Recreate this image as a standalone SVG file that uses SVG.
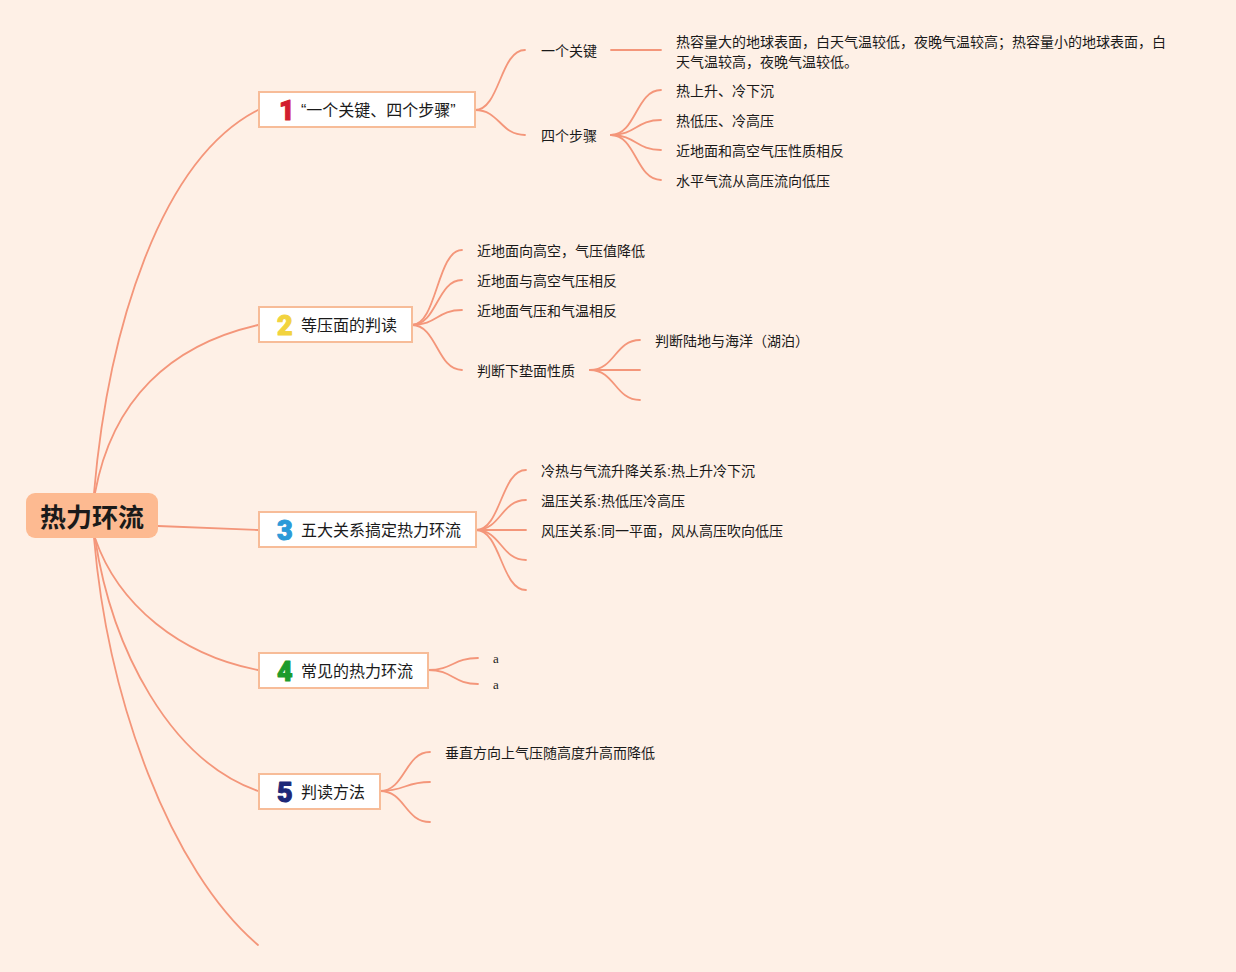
<svg xmlns="http://www.w3.org/2000/svg" width="1236" height="972" viewBox="0 0 1236 972">
<style>
.bg{fill:#FEF0E6}
.ln{fill:none;stroke:#F4967A;stroke-width:1.8;stroke-linecap:round}
.box{fill:#FFFFFF;stroke:#F7BC98;stroke-width:2}
.t{font-family:"Liberation Sans","Noto Sans CJK SC",sans-serif;fill:#1A1A1A;}
.n{font-size:16px}
.s{font-size:14px}
.num{font-family:Roboto,"Liberation Sans",sans-serif;font-weight:900;font-size:27px;stroke-width:1;stroke-linejoin:round}
</style>
<rect class="bg" x="0" y="0" width="1236" height="972"/>
<g id="connectors">
  <path class="ln" d="M94,493 C108,330 160,160 258,110"/>
  <path class="ln" d="M95,493 C112,400 170,345 258,325"/>
  <path class="ln" d="M158,526 L258,530"/>
  <path class="ln" d="M95,538 C118,605 180,655 258,670"/>
  <path class="ln" d="M95,538 C112,650 170,760 258,791"/>
  <path class="ln" d="M94,538 C108,700 170,870 258,945"/>
  <path class="ln" d="M475,110 C500,110 500,50 525,50"/>
  <path class="ln" d="M475,110 C500,110 500,135 525,135"/>
  <path class="ln" d="M611,50 L661,50"/>
  <path class="ln" d="M611,135 C636,135 636,90 661,90"/>
  <path class="ln" d="M611,135 C636,135 636,120 661,120"/>
  <path class="ln" d="M611,135 C636,135 636,150 661,150"/>
  <path class="ln" d="M611,135 C636,135 636,180 661,180"/>
  <path class="ln" d="M412,325 C437,325 437,250 462,250"/>
  <path class="ln" d="M412,325 C437,325 437,280 462,280"/>
  <path class="ln" d="M412,325 C437,325 437,310 462,310"/>
  <path class="ln" d="M412,325 C437,325 437,370 462,370"/>
  <path class="ln" d="M590,370 C615,370 615,340 640,340"/>
  <path class="ln" d="M590,370 L640,370"/>
  <path class="ln" d="M590,370 C615,370 615,400 640,400"/>
  <path class="ln" d="M476,530 C501,530 501,470 526,470"/>
  <path class="ln" d="M476,530 C501,530 501,500 526,500"/>
  <path class="ln" d="M476,530 L526,530"/>
  <path class="ln" d="M476,530 C501,530 501,560 526,560"/>
  <path class="ln" d="M476,530 C501,530 501,590 526,590"/>
  <path class="ln" d="M428,670 C453,670 453,658 478,658"/>
  <path class="ln" d="M428,670 C453,670 453,684 478,684"/>
  <path class="ln" d="M380,791 C405,791 405,752 430,752"/>
  <path class="ln" d="M380,791 C405,791 405,782 430,782"/>
  <path class="ln" d="M380,791 C405,791 405,822 430,822"/>
</g>
<g id="root">
  <rect x="26" y="493" width="132" height="45" rx="9" fill="#FDBA91"/>
  <text class="t" x="92" y="527" font-size="26" font-weight="bold" text-anchor="middle" fill="#111">热力环流</text>
</g>
<g id="n1">
  <rect class="box" x="259" y="92" width="216" height="35"/>
  <text class="num" x="279" y="120" fill="#D21F2D" stroke="#D21F2D">1</text>
  <text class="t n" x="301" y="116">“一个关键、四个步骤”</text>
</g>
<g id="n1a"><text class="t s" x="541" y="56">一个关键</text></g>
<g id="n1a1">
  <text class="t s" x="676" y="47">热容量大的地球表面，白天气温较低，夜晚气温较高；热容量小的地球表面，白</text>
  <text class="t s" x="676" y="67">天气温较高，夜晚气温较低。</text>
</g>
<g id="n1b"><text class="t s" x="541" y="141">四个步骤</text></g>
<g id="n1b1"><text class="t s" x="676" y="96">热上升、冷下沉</text></g>
<g id="n1b2"><text class="t s" x="676" y="126">热低压、冷高压</text></g>
<g id="n1b3"><text class="t s" x="676" y="156">近地面和高空气压性质相反</text></g>
<g id="n1b4"><text class="t s" x="676" y="186">水平气流从高压流向低压</text></g>
<g id="n2">
  <rect class="box" x="259" y="307" width="153" height="35"/>
  <text class="num" x="277" y="335" fill="#F2D33E" stroke="#F2D33E">2</text>
  <text class="t n" x="301" y="331">等压面的判读</text>
</g>
<g id="n2a"><text class="t s" x="477" y="256">近地面向高空，气压值降低</text></g>
<g id="n2b"><text class="t s" x="477" y="286">近地面与高空气压相反</text></g>
<g id="n2c"><text class="t s" x="477" y="316">近地面气压和气温相反</text></g>
<g id="n2d"><text class="t s" x="477" y="376">判断下垫面性质</text></g>
<g id="n2d1"><text class="t s" x="655" y="346">判断陆地与海洋（湖泊）</text></g>
<g id="n3">
  <rect class="box" x="259" y="512" width="217" height="35"/>
  <text class="num" x="277" y="540" fill="#2B9AD8" stroke="#2B9AD8">3</text>
  <text class="t n" x="301" y="536">五大关系搞定热力环流</text>
</g>
<g id="n3a"><text class="t s" x="541" y="476">冷热与气流升降关系:热上升冷下沉</text></g>
<g id="n3b"><text class="t s" x="541" y="506">温压关系:热低压冷高压</text></g>
<g id="n3c"><text class="t s" x="541" y="536">风压关系:同一平面，风从高压吹向低压</text></g>
<g id="n4">
  <rect class="box" x="259" y="653" width="169" height="35"/>
  <text class="num" x="277" y="681" fill="#1E9B2C" stroke="#1E9B2C">4</text>
  <text class="t n" x="301" y="677">常见的热力环流</text>
</g>
<g id="n4a"><text x="493" y="663" font-family="Liberation Serif,serif" font-size="13" fill="#222">a</text></g>
<g id="n4b"><text x="493" y="689" font-family="Liberation Serif,serif" font-size="13" fill="#222">a</text></g>
<g id="n5">
  <rect class="box" x="259" y="774" width="121" height="35"/>
  <text class="num" x="277" y="802" fill="#1C2878" stroke="#1C2878">5</text>
  <text class="t n" x="301" y="798">判读方法</text>
</g>
<g id="n5a"><text class="t s" x="445" y="758">垂直方向上气压随高度升高而降低</text></g>
</svg>
